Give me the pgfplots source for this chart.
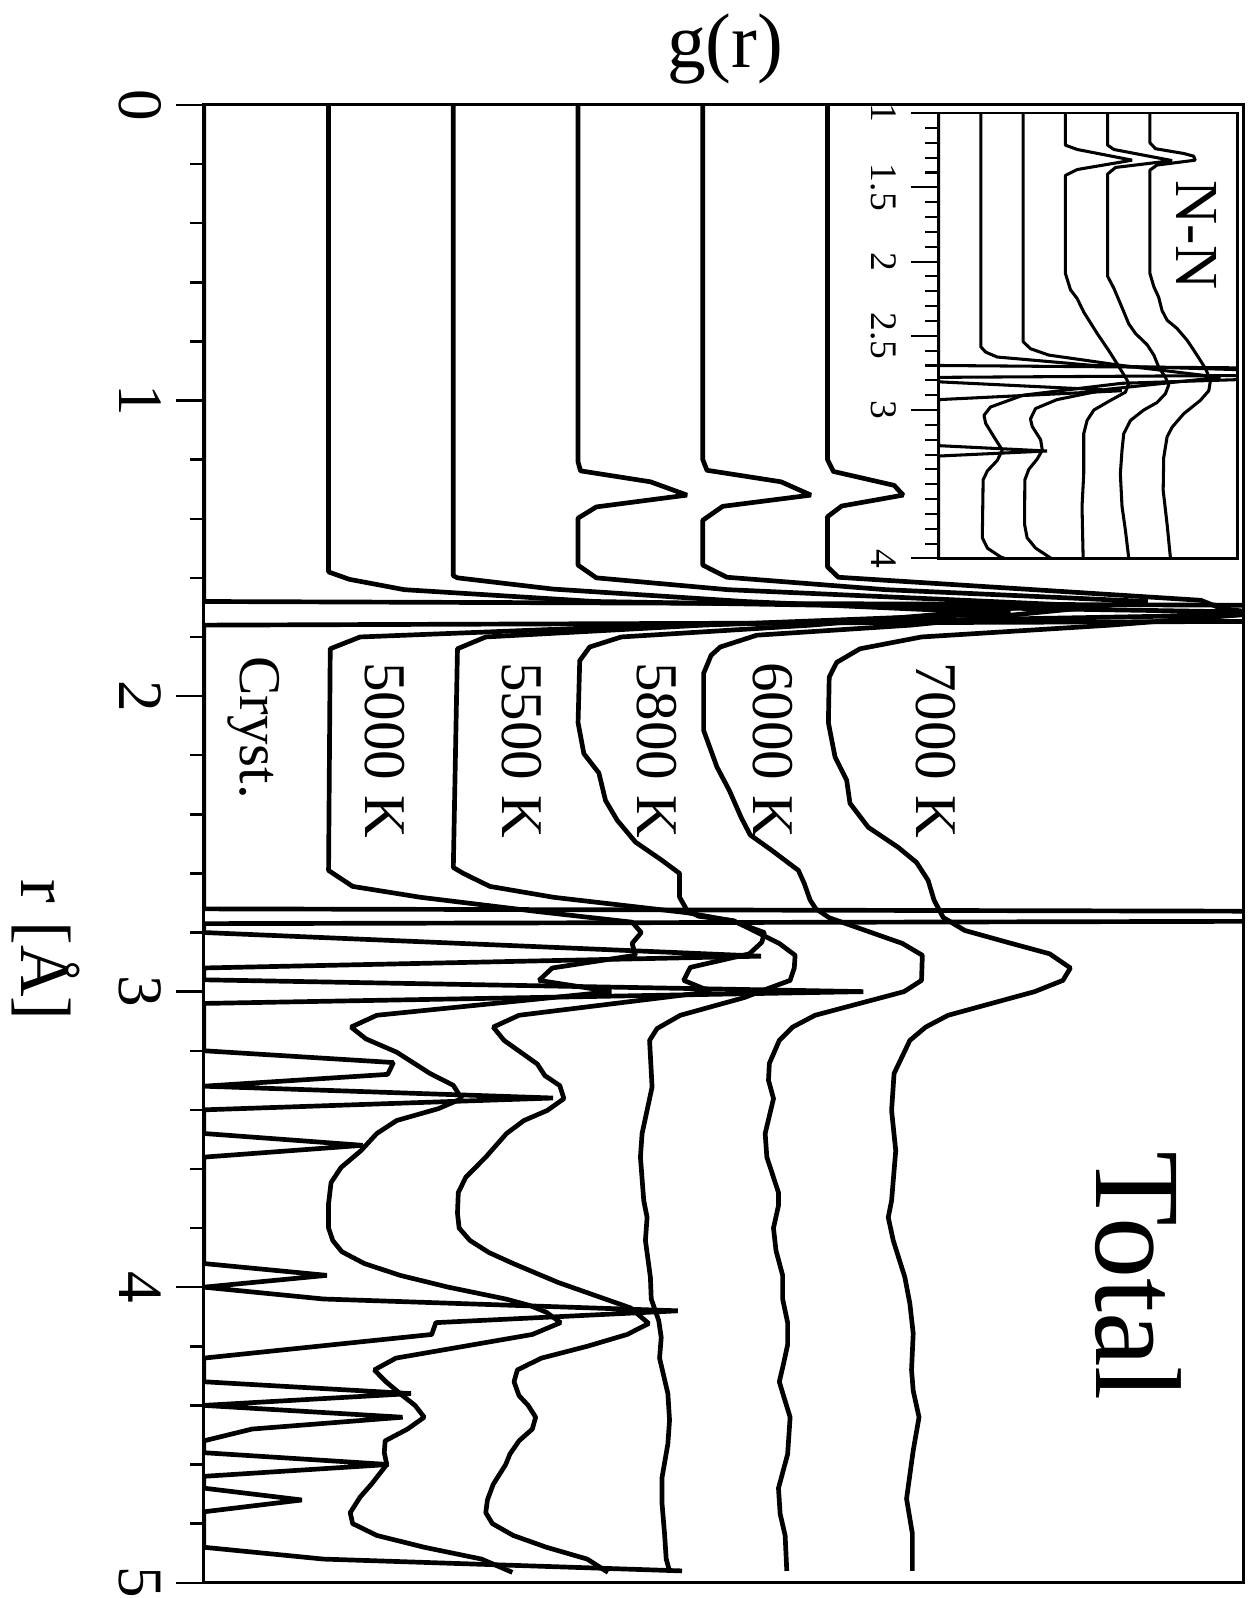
\documentclass[border=0pt]{standalone}
\usepackage{fontspec}
\setmainfont{Liberation Serif}
\usepackage{pgfplots}
\pgfplotsset{compat=1.18}
\usepackage{pgfplotstable}
\usetikzlibrary{calc}

\pgfplotsset{
  mainline/.style={black, solid, line width=1.15pt, line join=bevel, mark=none},
  insetline/.style={black, solid, line width=0.75pt, line join=bevel, mark=none},
}

% ---------------- main panel (r in Angstrom, g without offset) ----------------
\pgfplotstableread{
r g
0 0
1.68 0
1.72 40
1.76 0
2.72 0
2.745 40
2.77 0
2.80 0
2.88 6.70
2.92 0
2.96 0
3.00 7.93
3.04 0
3.20 0
3.24 2.28
3.28 2.21
3.32 0
3.36 4.20
3.40 0
3.48 0
3.52 1.91
3.56 0
3.92 0
3.96 1.48
4.00 0
4.04 1.44
4.08 5.70
4.12 2.79
4.16 2.74
4.24 0
4.32 0
4.36 2.49
4.40 0
4.44 2.39
4.48 0.58
4.52 0
4.56 0
4.60 2.22
4.64 0
4.68 0
4.72 1.18
4.76 0
4.88 0
4.92 1.44
4.96 5.75
}\cryst

\pgfplotstableread{
r g
0 0
1.58 0
1.605 0.25
1.64 0.91
1.68 3.2
1.72 12
1.76 4.0
1.80 0.38
1.84 0.02
2.59 0
2.644 0.29
2.681 1.11
2.73 2.54
2.765 3.65
2.80 3.76
2.837 3.65
2.877 3.69
2.92 2.69
2.962 2.53
3.00 3.40
3.08 0.58
3.12 0.27
3.16 0.45
3.205 0.82
3.277 1.22
3.317 1.50
3.362 1.60
3.396 1.32
3.436 0.82
3.48 0.58
3.538 0.39
3.595 0.15
3.646 0.03
3.717 0
3.80 0
3.842 0.05
3.88 0.16
3.92 0.43
3.96 0.86
4.00 1.44
4.04 2.13
4.062 2.42
4.085 2.62
4.12 2.79
4.16 2.45
4.24 0.81
4.28 0.55
4.32 0.69
4.367 0.89
4.40 1.04
4.44 1.15
4.48 0.95
4.52 0.68
4.56 0.67
4.60 0.70
4.665 0.52
4.71 0.38
4.763 0.26
4.80 0.29
4.84 0.58
4.88 1.15
4.92 1.84
4.965 2.21
}\tA

\pgfplotstableread{
r g
0 0
1.593 0
1.60 0.05
1.638 1.2
1.68 3.5
1.72 6.7
1.76 3.0
1.80 0.39
1.84 0.05
2.58 0
2.60 0.12
2.644 0.44
2.681 1.21
2.733 2.81
2.76 3.35
2.80 3.74
2.833 3.71
2.872 3.56
2.918 2.85
2.962 2.77
3.00 3.10
3.08 0.79
3.12 0.48
3.165 0.61
3.245 1.01
3.284 1.10
3.318 1.28
3.362 1.33
3.402 1.13
3.436 0.85
3.48 0.64
3.56 0.39
3.628 0.15
3.68 0.06
3.75 0.05
3.80 0.07
3.842 0.20
3.883 0.43
3.92 0.72
3.984 1.26
4.07 2.13
4.123 2.35
4.16 2.09
4.20 1.61
4.24 1.06
4.28 0.77
4.32 0.73
4.367 0.79
4.40 0.90
4.44 0.99
4.48 0.95
4.52 0.79
4.565 0.68
4.60 0.63
4.667 0.48
4.72 0.41
4.763 0.39
4.80 0.47
4.84 0.72
4.88 1.12
4.92 1.61
4.965 1.86
}\tB

\pgfplotstableread{
r g
0 0
1.208 0
1.238 0.03
1.275 0.87
1.32 1.31
1.36 0.22
1.398 0
1.557 0
1.60 0.22
1.64 1.8
1.69 5.76
1.76 2.8
1.80 0.52
1.834 0.14
1.88 0.02
2.09 0
2.195 0.07
2.26 0.25
2.353 0.33
2.42 0.47
2.494 0.69
2.556 1.01
2.60 1.22
2.68 1.22
2.725 1.31
2.745 1.45
2.76 1.87
2.837 2.42
2.877 2.61
2.92 2.60
2.962 2.55
2.99 2.28
3.02 2.00
3.08 1.23
3.125 0.95
3.165 0.86
3.323 0.89
3.48 0.77
3.56 0.75
3.707 0.79
3.764 0.83
3.842 0.81
3.967 0.87
4.04 0.88
4.113 0.97
4.17 1.00
4.24 0.98
4.36 1.08
4.45 1.10
4.53 1.08
4.644 1.01
4.733 1.01
4.834 1.04
4.92 1.06
4.96 1.10
}\tC

\pgfplotstableread{
r g
0 0
1.20 0
1.236 0.05
1.275 0.94
1.32 1.30
1.358 0.24
1.405 0
1.557 0
1.598 0.29
1.64 2.2
1.68 5.35
1.76 2.5
1.794 0.65
1.834 0.21
1.862 0.10
1.923 0.01
2.116 0.01
2.24 0.17
2.32 0.32
2.41 0.46
2.47 0.57
2.52 0.82
2.59 1.15
2.634 1.22
2.69 1.29
2.72 1.36
2.75 1.52
2.837 2.40
2.877 2.64
2.962 2.63
3.00 2.42
3.08 1.35
3.12 1.08
3.165 0.92
3.243 0.80
3.30 0.79
3.362 0.85
3.48 0.75
3.56 0.77
3.68 0.91
3.724 0.91
3.80 0.85
3.876 0.88
3.96 0.96
4.04 0.96
4.12 1.02
4.195 1.02
4.26 0.97
4.32 0.92
4.367 0.97
4.44 1.05
4.565 1.02
4.68 0.91
4.767 0.93
4.84 0.99
4.96 1.01
}\tD

\pgfplotstableread{
r g
0 0
1.20 0
1.24 0.07
1.287 0.80
1.32 0.91
1.357 0.17
1.393 0
1.563 0
1.598 0.13
1.676 4.49
1.703 4.73
1.72 5.2
1.76 3.4
1.80 1.13
1.84 0.39
1.886 0.11
1.936 0.02
2.09 0.01
2.206 0.09
2.285 0.23
2.363 0.27
2.444 0.49
2.512 0.85
2.563 1.07
2.624 1.21
2.69 1.28
2.749 1.39
2.793 1.65
2.833 2.16
2.872 2.67
2.92 2.92
2.962 2.83
3.00 2.49
3.08 1.45
3.12 1.18
3.165 0.99
3.277 0.80
3.402 0.77
3.538 0.82
3.707 0.77
3.764 0.73
3.842 0.79
3.967 0.93
4.056 0.99
4.157 1.03
4.28 1.01
4.35 1.03
4.44 1.10
4.553 1.03
4.716 0.95
4.834 1.02
4.96 1.02
}\tE

% ---------------- inset N-N ----------------
\pgfplotstableread{
r g
1 0
2.70 0
2.745 30
2.78 0
2.81 0
2.87 6.5
2.93 0
3.24 0
3.276 3.85
3.31 0
4 0
}\icryst

\pgfplotstableread{
r g
1 0
2.575 0
2.61 0.17
2.643 0.58
2.70 4
2.76 15
2.82 5
2.90 1.5
2.98 0.34
3.036 0.11
3.09 0.17
3.18 0.46
3.27 0.76
3.34 0.58
3.41 0.23
3.47 0.08
3.86 0.05
3.93 0.23
3.99 0.70
4.0 0.85
}\iA

\pgfplotstableread{
r g
1 0
2.54 0
2.587 0.26
2.63 0.91
2.70 3.5
2.78 7
2.86 3
2.93 1.2
2.99 0.44
3.06 0.26
3.11 0.32
3.20 0.62
3.27 0.68
3.33 0.50
3.40 0.20
3.47 0.06
3.77 0.05
3.86 0.14
3.93 0.44
4.0 1.0
}\iB

\pgfplotstableread{
r g
1 0
1.216 0
1.245 0.42
1.317 2.37
1.38 0.42
1.42 0
2.08 0
2.19 0.18
2.25 0.42
2.34 0.65
2.485 1.13
2.60 1.54
2.69 1.84
2.78 2.13
2.82 2.25
2.88 2.13
2.935 1.60
3.00 1.01
3.07 0.77
3.16 0.65
3.43 0.65
3.65 0.59
4.0 0.63
}\iC

\pgfplotstableread{
r g
1 0
1.216 0
1.245 0.22
1.32 2.29
1.366 0.28
1.41 0
2.10 0
2.18 0.22
2.31 0.51
2.42 0.75
2.485 0.99
2.56 1.40
2.63 1.64
2.71 1.81
2.78 2.05
2.83 2.17
2.89 2.05
2.95 1.75
3.00 1.28
3.07 0.81
3.16 0.57
3.27 0.51
3.43 0.45
3.65 0.51
3.81 0.63
4.0 0.75
}\iD

\pgfplotstableread{
r g
1 0
1.20 0
1.24 0.20
1.272 1.20
1.29 1.55
1.317 1.61
1.35 0.25
1.384 0
2.08 0
2.17 0.14
2.24 0.31
2.33 0.43
2.395 0.61
2.45 0.96
2.53 1.32
2.63 1.67
2.72 1.97
2.80 2.15
2.87 2.09
2.935 1.79
3.025 1.20
3.115 0.79
3.18 0.61
3.32 0.49
3.54 0.47
3.77 0.61
4.0 0.73
}\iE

\begin{document}
\begin{tikzpicture}
\begin{axis}[
  scale only axis,
  width=255pt, height=362.5pt,
  xmin=0, xmax=12.5, ymin=0, ymax=5,
  y dir=reverse,
  xtick=\empty,
  ytick={0,1,2,3,4,5},
  yticklabels={0,1,2,3,4,5},
  minor y tick num=4,
  tick align=outside,
  ytick pos=left,
  major tick length=6.9pt,
  minor tick length=3.3pt,
  axis line style={line width=0.75pt},
  every tick/.style={line width=0.6pt, black},
  yticklabel style={rotate=-90, anchor=north, font=\fontsize{15.5}{16}\selectfont},
  clip mode=individual,
]
\addplot[mainline] table[x expr=\thisrow{g}, y=r]{\cryst};
\addplot[mainline] table[x expr=\thisrow{g}+1.5, y=r]{\tA};
\addplot[mainline] table[x expr=\thisrow{g}+3, y=r]{\tB};
\addplot[mainline] table[x expr=\thisrow{g}+4.5, y=r]{\tC};
\addplot[mainline] table[x expr=\thisrow{g}+6, y=r]{\tD};
\addplot[mainline] table[x expr=\thisrow{g}+7.5, y=r]{\tE};

\node[rotate=-90, font=\fontsize{14.5}{15}\selectfont] at (axis cs:0.60,2.107) {Cryst.};
\node[rotate=-90, font=\fontsize{14.5}{15}\selectfont] at (axis cs:2.18,2.183) {5000 K};
\node[rotate=-90, font=\fontsize{14.5}{15}\selectfont] at (axis cs:3.82,2.183) {5500 K};
\node[rotate=-90, font=\fontsize{14.5}{15}\selectfont] at (axis cs:5.45,2.183) {5800 K};
\node[rotate=-90, font=\fontsize{14.5}{15}\selectfont] at (axis cs:6.84,2.183) {6000 K};
\node[rotate=-90, font=\fontsize{14.5}{15}\selectfont] at (axis cs:8.80,2.183) {7000 K};
\node[rotate=-90, font=\fontsize{30}{30}\selectfont] at (axis cs:11.24,3.962) {Total};
\node[font=\fontsize{19}{20}\selectfont] at (axis cs:6.27,-0.19) {g(r)};
\node[rotate=-90, font=\fontsize{17.5}{18}\selectfont] at (axis cs:-1.90,2.86) {r [Å]};

\coordinate (TL) at (axis cs:0,0);
\coordinate (BR) at (axis cs:12.5,5);
\end{axis}

\begin{axis}[
  at={($(TL)+(180.25pt,-2pt)$)}, anchor=north west,
  scale only axis,
  width=73.25pt, height=109.25pt,
  xmin=0, xmax=10.6, ymin=1, ymax=4,
  y dir=reverse,
  xtick=\empty,
  ytick={1,1.5,2,2.5,3,4},
  yticklabels={1,1.5,2,2.5,3,4},
  minor ytick={1.1,1.2,1.3,1.4,1.6,1.7,1.8,1.9,2.1,2.2,2.3,2.4,2.6,2.7,2.8,2.9,3.1,3.2,3.3,3.4,3.5,3.6,3.7,3.8,3.9},
  tick align=outside,
  ytick pos=left,
  major tick length=6.9pt,
  minor tick length=3.3pt,
  axis line style={line width=0.65pt},
  every tick/.style={line width=0.5pt, black},
  yticklabel style={rotate=-90, anchor=north, font=\fontsize{9.2}{10}\selectfont},
  axis background/.style={fill=white},
  clip mode=individual,
]
\addplot[insetline] table[x expr=\thisrow{g}, y=r]{\icryst};
\addplot[insetline] table[x expr=\thisrow{g}+1.5, y=r]{\iA};
\addplot[insetline] table[x expr=\thisrow{g}+3, y=r]{\iB};
\addplot[insetline] table[x expr=\thisrow{g}+4.5, y=r]{\iC};
\addplot[insetline] table[x expr=\thisrow{g}+6, y=r]{\iD};
\addplot[insetline] table[x expr=\thisrow{g}+7.5, y=r]{\iE};
\node[rotate=-90, font=\fontsize{15}{15}\selectfont] at (axis cs:9.15,1.82) {N-N};
\end{axis}

\pgfresetboundingbox
\path[use as bounding box] ($(TL)+(-50pt,25.75pt)$) rectangle ($(BR)+(1pt,-3.75pt)$);
\end{tikzpicture}
\end{document}
